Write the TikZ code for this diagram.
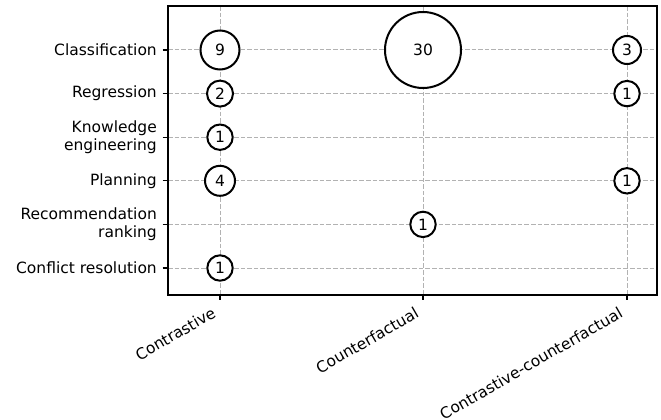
\documentclass[tikz,border=0pt]{standalone}
\usepackage{fontspec}
\setmainfont{DejaVu Sans}
\begin{document}
\begin{tikzpicture}[x=1pt,y=-1pt,
  gridline/.style={draw=black!30, line width=1pt, dash pattern=on 4.6pt off 2pt},
  frame/.style={draw=black, line width=1.1pt},
  tickmark/.style={draw=black, line width=1.1pt},
  ylab/.style={anchor=east, align=right, inner sep=0pt, font=\fontsize{15.5}{18.6}\selectfont},
  xlab/.style={anchor=north east, rotate=30, inner sep=0pt, font=\fontsize{15.5}{18.6}\selectfont},
  bubble/.style={circle, draw=black, fill=white, line width=2pt, inner sep=0pt, font=\fontsize{15.5}{18.6}\selectfont}]
\useasboundingbox (0,0) rectangle (661,420);

% category positions
\def\xA{220}\def\xB{423}\def\xC{627}
\def\yA{50}\def\yB{93.6}\def\yC{137.2}\def\yD{180.8}\def\yE{224.4}\def\yF{268}

% dashed grid
\foreach \gx in {\xA,\xB,\xC} \draw[gridline] (\gx,6) -- (\gx,295);
\foreach \gy in {\yA,\yB,\yC,\yD,\yE,\yF} \draw[gridline] (168,\gy) -- (657,\gy);

% axes frame and ticks
\draw[frame] (168,6) rectangle (657,295);
\foreach \gy in {\yA,\yB,\yC,\yD,\yE,\yF} \draw[tickmark] (162.6,\gy) -- (168,\gy);
\foreach \gx in {\xA,\xB,\xC} \draw[tickmark] (\gx,295) -- (\gx,300.4);

% task labels
\node[ylab] (t1) at (157,\yA) {Classification};
\node[ylab] (t2) at (157,\yB) {Regression};
\node[ylab] (t3) at (157,\yC) {Knowledge\\engineering};
\node[ylab] (t4) at (157,\yD) {Planning};
\node[ylab] (t5) at (157,\yE) {Recommendation\\ranking};
\node[ylab] (t6) at (157,\yF) {Conflict resolution};

% explanation type labels
\node[xlab] (e1) at (\xA-9,306) {Contrastive};
\node[xlab] (e2) at (\xB-9,306) {Counterfactual};
\node[xlab] (e3) at (\xC-9,306) {Contrastive-counterfactual};

% counts
\node[bubble, minimum size=39pt] (b11) at (\xA,\yA) {9};
\node[bubble, minimum size=26pt] (b12) at (\xA,\yB) {2};
\node[bubble, minimum size=25.4pt] (b13) at (\xA,\yC) {1};
\node[bubble, minimum size=30pt] (b14) at (\xA,\yD) {4};
\node[bubble, minimum size=25.4pt] (b16) at (\xA,\yF) {1};
\node[bubble, minimum size=76pt] (b21) at (\xB,\yA) {30};
\node[bubble, minimum size=25.4pt] (b25) at (\xB,\yE) {1};
\node[bubble, minimum size=28pt] (b31) at (\xC,\yA) {3};
\node[bubble, minimum size=25.4pt] (b32) at (\xC,\yB) {1};
\node[bubble, minimum size=25.4pt] (b34) at (\xC,\yD) {1};
\end{tikzpicture}
\end{document}
